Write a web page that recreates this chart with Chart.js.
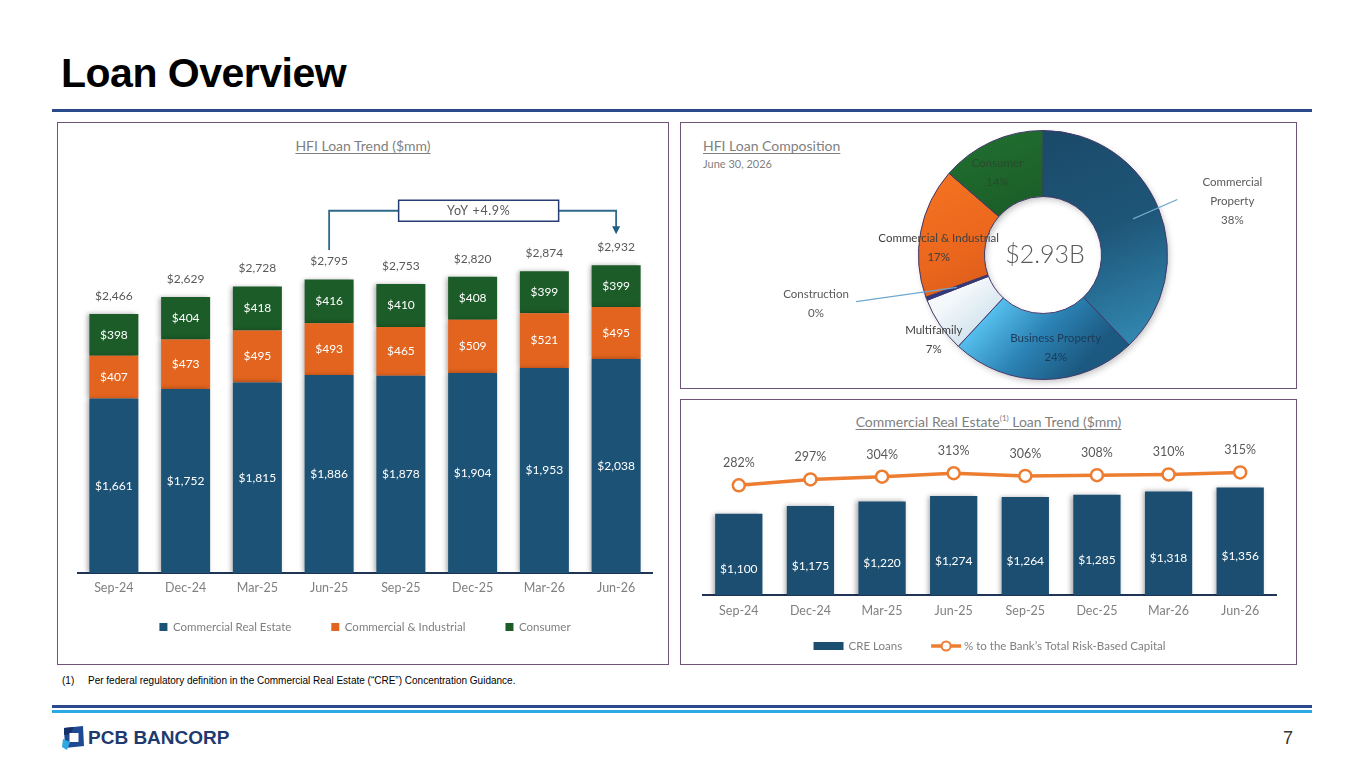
<!DOCTYPE html>
<html lang="en">
<head>
<meta charset="utf-8">
<title>Loan Overview</title>
<script src="https://cdn.jsdelivr.net/npm/chart.js@4.4.1/dist/chart.umd.min.js"></script>
<style>
  html,body{margin:0;padding:0;background:#fff;}
  body{width:1365px;height:768px;position:relative;overflow:hidden;font-family:Lato,"Noto Sans",sans-serif;}
  .abs{position:absolute;}
  #pageTitle{left:61px;top:53px;margin:0;font:bold 41px/41px "Liberation Sans",Arial,sans-serif;letter-spacing:-0.5px;color:#000;white-space:nowrap;}
  .rule{left:52px;width:1260px;}
  .panel{border:1px solid #6E5478;box-sizing:border-box;}
  .ctitle{font-size:14px;line-height:18px;color:#7F7F7F;text-decoration:underline;text-underline-offset:2px;text-decoration-thickness:1px;white-space:nowrap;}
  .foot{font:10px/12px "Liberation Sans",Arial,sans-serif;color:#000;white-space:nowrap;}
  canvas{position:absolute;}
</style>
</head>
<body>
<h1 id="pageTitle" class="abs">Loan Overview</h1>
<div class="abs rule" style="top:109px;height:3px;background:#2B4A8B"></div>

<div class="abs panel" style="left:57px;top:122px;width:612px;height:543px"></div>
<div class="abs panel" style="left:680px;top:122px;width:617px;height:267px"></div>
<div class="abs panel" style="left:680px;top:399px;width:617px;height:266px"></div>

<div class="abs ctitle" style="left:57px;width:612px;top:137px;text-align:center">HFI Loan Trend ($mm)</div>
<div class="abs ctitle" style="left:703px;top:137px">HFI Loan Composition</div>
<div class="abs" style="left:703px;top:156px;font-size:11px;line-height:16px;color:#7F7F7F">June 30, 2026</div>
<div class="abs ctitle" style="left:680px;width:617px;top:413px;text-align:center">Commercial Real Estate<sup style="font-size:8px;line-height:0">(1)</sup> Loan Trend ($mm)</div>

<canvas id="loanTrend" style="left:58px;top:124px" width="609" height="539"></canvas>
<canvas id="loanMix" style="left:681px;top:123px" width="614" height="265"></canvas>
<canvas id="creTrendChart" style="left:681px;top:400px" width="614" height="263"></canvas>

<div class="abs foot" style="left:62px;top:675px">(1)</div>
<div class="abs foot" style="left:88px;top:675px">Per federal regulatory definition in the Commercial Real Estate (“CRE”) Concentration Guidance.</div>

<div class="abs rule" style="top:705px;height:3px;background:#2B4A8B"></div>
<div class="abs rule" style="top:710px;height:3px;background:#2AAAE2"></div>

<svg class="abs" style="left:61px;top:725px" width="26" height="26" viewBox="0 0 26 26">
  <polygon points="3,3 22,1 23,21 4,23" fill="#1E4A93"/>
  <polygon points="3,3 13,2 9,9 3,10" fill="#16306A"/>
  <rect x="8.5" y="8" width="9" height="9" fill="#fff"/>
  <polygon points="2,14 9,17 6,25 1,22" fill="#2FA8E0"/>
</svg>
<div class="abs" style="left:88px;top:727px;font:bold 19px/22px 'Liberation Sans',Arial,sans-serif;color:#1F3A6E;white-space:nowrap">PCB BANCORP</div>
<div class="abs" style="left:1283px;top:727px;font:18px/22px 'Liberation Sans',Arial,sans-serif;color:#333">7</div>

<script>
// ---------------- DATA ----------------
const categories = ['Sep-24','Dec-24','Mar-25','Jun-25','Sep-25','Dec-25','Mar-26','Jun-26'];
const creLoans = [1661,1752,1815,1886,1878,1904,1953,2038];
const ciLoans = [407,473,495,493,465,509,521,495];
const consumerLoans = [398,404,418,416,410,408,399,399];
const totalLoans = [2466,2629,2728,2795,2753,2820,2874,2932];

const compLabels = ['Commercial Property','Business Property','Multifamily','Construction','Commercial & Industrial','Consumer'];
const compValues = [1110,705,210,13,495,399];

const creTrend = [1100,1175,1220,1274,1264,1285,1318,1356];
const creToCapital = [282,297,304,313,306,308,310,315];

// ---------------- HELPERS ----------------
const FONT = 'Lato, "Noto Sans", sans-serif';
Chart.defaults.font.family = FONT;
Chart.defaults.color = '#7F7F7F';
const fmt = v => '$' + v.toLocaleString('en-US');

const barShadow = {
  id: 'barShadow',
  beforeDatasetDraw(chart, args) {
    if (args.meta.type !== 'bar') return;
    const ctx = chart.ctx;
    ctx.save();
    chart.$shadowSaved = true;
    ctx.shadowColor = 'rgba(0,0,0,0.35)';
    ctx.shadowBlur = 5;
    ctx.shadowOffsetX = -2;
    ctx.shadowOffsetY = 0;
  },
  afterDatasetDraw(chart) {
    if (chart.$shadowSaved) { chart.ctx.restore(); chart.$shadowSaved = false; }
  }
};

// legend drawn under the x axis, items built from the datasets
function makeLegend(id, cfg) {
  return {
    id: id,
    afterDraw(chart) {
      const ctx = chart.ctx;
      const items = cfg.items(chart);
      ctx.save();
      ctx.font = cfg.font;
      const widths = items.map(it => it.iconW + it.iconGap + ctx.measureText(it.text).width);
      const total = widths.reduce((a, b) => a + b, 0) + cfg.gap * (items.length - 1);
      let x = (chart.chartArea.left + chart.chartArea.right) / 2 - total / 2;
      const y = chart.chartArea.bottom + cfg.dy;
      items.forEach((it, i) => {
        it.drawIcon(ctx, x, y);
        ctx.fillStyle = cfg.color;
        ctx.textAlign = 'left';
        ctx.textBaseline = 'middle';
        ctx.fillText(it.text, x + it.iconW + it.iconGap, y);
        x += widths[i] + cfg.gap;
      });
      ctx.restore();
    }
  };
}

// ---------------- LEFT: HFI Loan Trend ----------------
const stackLabels = {
  id: 'stackLabels',
  afterDatasetsDraw(chart) {
    const ctx = chart.ctx;
    ctx.save();
    ctx.textAlign = 'center';
    ctx.textBaseline = 'middle';
    ctx.font = '12px ' + FONT;
    chart.data.datasets.forEach((ds, di) => {
      chart.getDatasetMeta(di).data.forEach((bar, i) => {
        const p = bar.getProps(['x', 'y', 'base'], true);
        ctx.fillStyle = '#FFFFFF';
        ctx.fillText(fmt(ds.data[i]), p.x, (p.y + p.base) / 2);
      });
    });
    const topMeta = chart.getDatasetMeta(chart.data.datasets.length - 1);
    topMeta.data.forEach((bar, i) => {
      ctx.fillStyle = '#595959';
      ctx.fillText(fmt(totalLoans[i]), bar.x, bar.y - 18);
    });
    ctx.restore();
  }
};

const yoyCallout = {
  id: 'yoyCallout',
  afterDraw(chart) {
    const ctx = chart.ctx;
    const xs = chart.scales.x, ys = chart.scales.y;
    const i0 = categories.indexOf('Jun-25'), i1 = categories.indexOf('Jun-26');
    const topBars = chart.getDatasetMeta(chart.data.datasets.length - 1).data;
    const x0 = xs.getPixelForValue(i0), x1 = xs.getPixelForValue(i1);
    const yLine = ys.getPixelForValue(3450);
    const y0 = topBars[i0].y - 29.5;
    const y1 = topBars[i1].y - 31;
    const mid = (x0 + x1) / 2;
    const boxL = mid - 74, boxR = mid + 86, boxH = 21;
    ctx.save();
    ctx.strokeStyle = '#2F6A8A';
    ctx.lineWidth = 1.8;
    ctx.beginPath();
    ctx.moveTo(x0, y0); ctx.lineTo(x0, yLine); ctx.lineTo(boxL, yLine);
    ctx.moveTo(boxR, yLine); ctx.lineTo(x1, yLine); ctx.lineTo(x1, y1 - 6);
    ctx.stroke();
    ctx.fillStyle = '#1F5F80';
    ctx.beginPath();
    ctx.moveTo(x1 - 4, y1 - 8); ctx.lineTo(x1 + 4, y1 - 8); ctx.lineTo(x1, y1); ctx.closePath();
    ctx.fill();
    ctx.fillStyle = '#FFFFFF';
    ctx.fillRect(boxL, yLine - boxH / 2, boxR - boxL, boxH);
    ctx.strokeStyle = '#283C74';
    ctx.lineWidth = 1.5;
    ctx.strokeRect(boxL, yLine - boxH / 2, boxR - boxL, boxH);
    const yoy = (totalLoans[i1] / totalLoans[i0] - 1) * 100;
    ctx.fillStyle = '#595959';
    ctx.font = '12.5px ' + FONT;
    ctx.textAlign = 'center';
    ctx.textBaseline = 'middle';
    try { ctx.letterSpacing = '0.6px'; } catch (e) {}
    ctx.fillText('YoY +' + yoy.toFixed(1) + '%', (boxL + boxR) / 2, yLine + 0.5);
    ctx.restore();
  }
};

const squareIcon = color => (ctx, x, y) => { ctx.fillStyle = color; ctx.fillRect(x, y - 4, 8, 8); };

const loanLegend = makeLegend('loanLegend', {
  font: '11.5px ' + FONT, color: '#7F7F7F', gap: 40, dy: 54,
  items: chart => chart.data.datasets.map(ds => ({
    text: ds.label, iconW: 8, iconGap: 5.5, drawIcon: squareIcon(ds.backgroundColor)
  }))
});

new Chart(document.getElementById('loanTrend'), {
  type: 'bar',
  data: {
    labels: categories,
    datasets: [
      { label: 'Commercial Real Estate', data: creLoans, backgroundColor: '#1C5276' },
      { label: 'Commercial & Industrial', data: ciLoans, backgroundColor: '#E3641E' },
      { label: 'Consumer', data: consumerLoans, backgroundColor: '#1C5C28' }
    ]
  },
  options: {
    responsive: false,
    animation: false,
    layout: { padding: { left: 20, right: 15, top: 71, bottom: 60 } },
    datasets: { bar: { categoryPercentage: 1, barPercentage: 0.683, borderWidth: 0 } },
    scales: {
      x: {
        stacked: true,
        grid: { display: false, drawTicks: false },
        border: { display: true, color: '#1F3554', width: 2 },
        ticks: { color: '#808080', font: { family: FONT, size: 12.5 }, padding: 7.5 },
        afterFit: s => { s.height = 30; }
      },
      y: { stacked: true, display: false, min: 0, max: 3600 }
    },
    plugins: { legend: { display: false }, tooltip: { enabled: false } }
  },
  plugins: [barShadow, stackLabels, yoyCallout, loanLegend]
});

// ---------------- TOP RIGHT: HFI Loan Composition ----------------
// colour stops and gradient directions (fractions of the chart area) per slice
const donutFills = [
  ['#1A4766', '#1E5678', '#3590BB'],
  ['#55BEEC', '#2B82B4', '#1C5980'],
  ['#F4F8FB', '#D5E5EF', '#A3C2D7'],
  ['#2A3A84', '#2A3A84', '#2A3A84'],
  ['#F47320', '#EA661D', '#CF5719'],
  ['#207030', '#1D632A', '#1A5726']
];
const donutGrad = [
  [0.3, 0.0, 0.7, 1.0],
  [0.3, 0.72, 0.6, 1.0],
  [0.1, 0.7, 0.3, 0.95],
  [0, 0, 0, 1],
  [0.0, 0.2, 0.3, 0.8],
  [0.2, 0.0, 0.4, 0.5]
];
function donutColor(context) {
  const chart = context.chart;
  const a = chart.chartArea;
  const i = context.dataIndex;
  const c = donutFills[i];
  if (!a) return c[1];
  const d = donutGrad[i];
  const g = chart.ctx.createLinearGradient(a.left + a.width * d[0], a.top + a.height * d[1],
                                           a.left + a.width * d[2], a.top + a.height * d[3]);
  g.addColorStop(0, c[0]); g.addColorStop(0.5, c[1]); g.addColorStop(1, c[2]);
  return g;
}

const donutLabelSpec = [
  { r: 1.5, dx: 16, dy: 16, color: '#595959', wrap: true, leader: { r: 0.78, ex: -55, ey: -2 } },
  { r: 0.74, dx: 12, dy: 1, color: '#1E3A58' },
  { r: 1.1, dx: 4, dy: 8, color: '#404040' },
  { r: 1.75, dx: -23, dy: -28, color: '#595959', leader: { r: 0.74, ex: 40, ey: -2 } },
  { r: 0.73, dx: -15, dy: 10, color: '#404040' },
  { r: 0.73, dx: -8, dy: 1, color: '#2A4A2E' }
];

const donutRing = {
  id: 'donutRing',
  beforeDatasetsDraw(chart) {
    const arc = chart.getDatasetMeta(0).data[0];
    if (!arc) return;
    const p = arc.getProps(['x', 'y', 'outerRadius', 'innerRadius'], true);
    const ctx = chart.ctx;
    ctx.save();
    ctx.shadowColor = 'rgba(0,0,0,0.28)';
    ctx.shadowBlur = 7;
    ctx.shadowOffsetX = 2;
    ctx.shadowOffsetY = 3;
    ctx.fillStyle = '#777';
    ctx.beginPath();
    ctx.arc(p.x, p.y, p.outerRadius - 1, 0, Math.PI * 2);
    ctx.arc(p.x, p.y, p.innerRadius + 1, 0, Math.PI * 2, true);
    ctx.fill('evenodd');
    ctx.restore();
  }
};

const donutLabels = {
  id: 'donutLabels',
  afterDatasetsDraw(chart) {
    const ctx = chart.ctx;
    const meta = chart.getDatasetMeta(0);
    const values = chart.data.datasets[0].data;
    const total = values.reduce((a, b) => a + b, 0);
    ctx.save();
    ctx.textAlign = 'center';
    ctx.textBaseline = 'middle';
    meta.data.forEach((arc, i) => {
      const p = arc.getProps(['x', 'y', 'startAngle', 'endAngle', 'outerRadius'], true);
      const midA = (p.startAngle + p.endAngle) / 2;
      const cx = Math.cos(midA), cy = Math.sin(midA);
      const spec = donutLabelSpec[i];
      const ax = p.x + cx * p.outerRadius * spec.r + spec.dx;
      const ay = p.y + cy * p.outerRadius * spec.r + spec.dy;
      const name = compLabels[i];
      const lines = (spec.wrap ? name.split(' ') : [name]).concat([Math.round(values[i] / total * 100) + '%']);
      if (spec.leader) {
        ctx.strokeStyle = '#6FA8CF';
        ctx.lineWidth = 1.2;
        ctx.beginPath();
        ctx.moveTo(p.x + cx * p.outerRadius * spec.leader.r, p.y + cy * p.outerRadius * spec.leader.r);
        ctx.lineTo(ax + spec.leader.ex, ay + spec.leader.ey);
        ctx.stroke();
      }
      ctx.font = '11.5px ' + FONT;
      ctx.fillStyle = spec.color;
      const gap = 19;
      lines.forEach((t, k) => {
        ctx.fillText(t, ax, ay + (k - (lines.length - 1) / 2) * gap);
      });
    });
    const c0 = meta.data[0].getProps(['x', 'y'], true);
    ctx.font = '300 25px ' + FONT;
    ctx.fillStyle = '#595959';
    ctx.fillText('$' + (total / 1000).toFixed(2) + 'B', c0.x + 2, c0.y);
    ctx.restore();
  }
};

new Chart(document.getElementById('loanMix'), {
  type: 'doughnut',
  data: {
    labels: compLabels,
    datasets: [{ data: compValues, backgroundColor: donutColor, borderColor: '#43386B', borderWidth: 1 }]
  },
  options: {
    responsive: false,
    animation: false,
    cutout: '47%',
    layout: { padding: { left: 237, right: 127, top: 7, bottom: 8 } },
    plugins: { legend: { display: false }, tooltip: { enabled: false } }
  },
  plugins: [donutRing, donutLabels]
});

// ---------------- BOTTOM RIGHT: CRE Loan Trend ----------------
const creLabels = {
  id: 'creLabels',
  afterDatasetsDraw(chart) {
    const ctx = chart.ctx;
    ctx.save();
    ctx.textAlign = 'center';
    ctx.textBaseline = 'middle';
    ctx.font = '12px ' + FONT;
    chart.getDatasetMeta(0).data.forEach((bar, i) => {
      const p = bar.getProps(['x', 'y', 'base'], true);
      ctx.fillStyle = '#FFFFFF';
      ctx.fillText(fmt(creTrend[i]), p.x, (p.y + p.base) / 2);
    });
    ctx.font = '12.5px ' + FONT;
    chart.getDatasetMeta(1).data.forEach((pt, i) => {
      ctx.fillStyle = '#595959';
      ctx.fillText(creToCapital[i] + '%', pt.x, pt.y - 22);
    });
    ctx.restore();
  }
};

const creLegend = makeLegend('creLegend', {
  font: '11.5px ' + FONT, color: '#7F7F7F', gap: 29, dy: 51,
  items: chart => [
    { text: chart.data.datasets[0].label, iconW: 30, iconGap: 5,
      drawIcon: (ctx, x, y) => { ctx.fillStyle = chart.data.datasets[0].backgroundColor; ctx.fillRect(x, y - 4, 30, 8); } },
    { text: chart.data.datasets[1].label, iconW: 30, iconGap: 3,
      drawIcon: (ctx, x, y) => {
        const c = chart.data.datasets[1].borderColor;
        ctx.strokeStyle = c; ctx.lineWidth = 3.5;
        ctx.beginPath(); ctx.moveTo(x, y); ctx.lineTo(x + 30, y); ctx.stroke();
        ctx.fillStyle = '#FFFFFF'; ctx.lineWidth = 2;
        ctx.beginPath(); ctx.arc(x + 15, y, 4.5, 0, Math.PI * 2); ctx.fill(); ctx.stroke();
      } }
  ]
});

new Chart(document.getElementById('creTrendChart'), {
  type: 'bar',
  data: {
    labels: categories,
    datasets: [
      { type: 'bar', label: 'CRE Loans', data: creTrend, backgroundColor: '#1B4E71', yAxisID: 'y', order: 2,
        categoryPercentage: 1, barPercentage: 0.66, borderWidth: 0 },
      { type: 'line', label: "% to the Bank’s Total Risk-Based Capital", data: creToCapital, yAxisID: 'y2', order: 1,
        borderColor: '#ED7D31', borderWidth: 3.5, pointRadius: 6, pointBackgroundColor: '#FFFFFF',
        pointBorderColor: '#ED7D31', pointBorderWidth: 2.5, tension: 0 }
    ]
  },
  options: {
    responsive: false,
    animation: false,
    layout: { padding: { left: 22, right: 19, top: 39.4, bottom: 38 } },
    scales: {
      x: {
        grid: { display: false, drawTicks: false },
        border: { display: true, color: '#1F3554', width: 2 },
        ticks: { color: '#808080', font: { family: FONT, size: 12.5 }, padding: 8.5 },
        afterFit: s => { s.height = 30; }
      },
      y: { display: false, min: 300, max: 1830 },
      y2: { display: false, position: 'right', min: 0, max: 400 }
    },
    plugins: { legend: { display: false }, tooltip: { enabled: false } }
  },
  plugins: [barShadow, creLabels, creLegend]
});
</script>
</body>
</html>
